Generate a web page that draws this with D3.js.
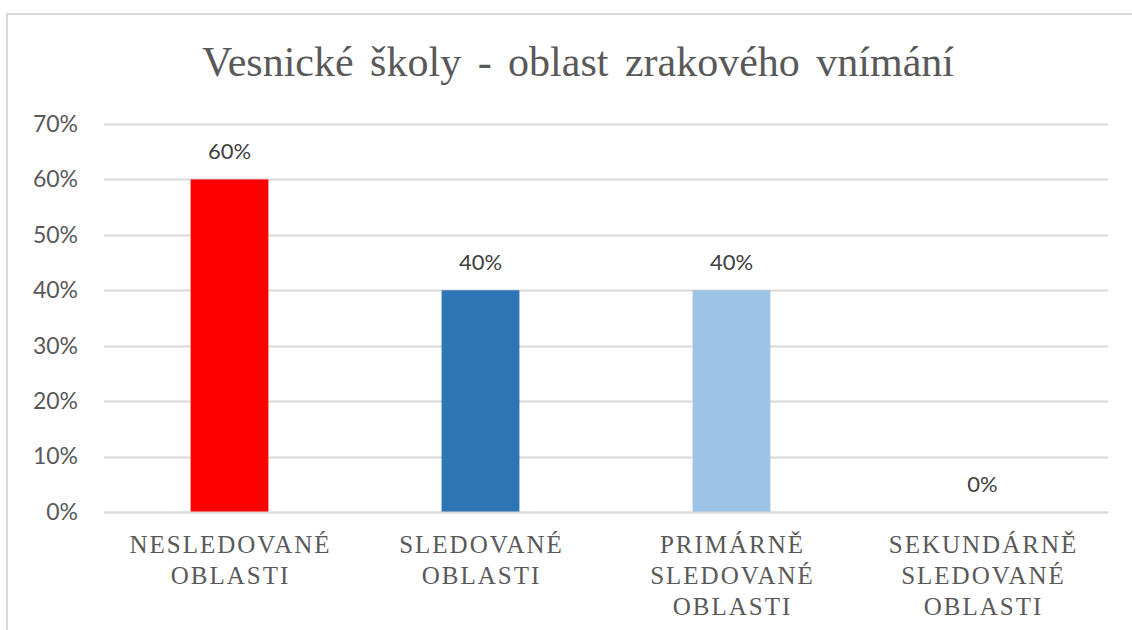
<!DOCTYPE html>
<html>
<head>
<meta charset="utf-8">
<script src="https://cdn.jsdelivr.net/npm/d3@7"></script>
<style>
  body { margin: 0; background: #fff; }
</style>
</head>
<body>
<div class="chart"></div>
<script>
// data
var categories = ["NESLEDOVANÉ OBLASTI", "SLEDOVANÉ OBLASTI", "PRIMÁRNĚ SLEDOVANÉ OBLASTI", "SEKUNDÁRNĚ SLEDOVANÉ OBLASTI"];
var categoryLines = [["NESLEDOVANÉ", "OBLASTI"], ["SLEDOVANÉ", "OBLASTI"], ["PRIMÁRNĚ", "SLEDOVANÉ", "OBLASTI"], ["SEKUNDÁRNĚ", "SLEDOVANÉ", "OBLASTI"]];
var values = [0.6, 0.4, 0.4, 0];
var barColors = ["#ff0000", "#2e75b6", "#9dc3e6", "#a5a5a5"];
var yTicks = [0, 0.1, 0.2, 0.3, 0.4, 0.5, 0.6, 0.7];
var title = "Vesnické školy - oblast zrakového vnímání";

var serif = "'Liberation Serif', 'Times New Roman', serif";
var sans = "Lato, 'Open Sans', sans-serif";

var svgWidth = 1132;
var svgHeight = 630;

var margin = { top: 124, right: 24, bottom: 118, left: 104 };
var width = svgWidth - margin.left - margin.right;
var height = svgHeight - margin.top - margin.bottom;

var svg = d3.select(".chart")
    .append("svg")
    .attr("width", svgWidth)
    .attr("height", svgHeight);

// outer frame (right and bottom edges fall outside the picture)
svg.append("rect")
    .attr("x", 7)
    .attr("y", 14)
    .attr("width", 1300)
    .attr("height", 800)
    .attr("fill", "none")
    .attr("stroke", "#d9d9d9")
    .attr("stroke-width", 2);

svg.append("text")
    .attr("x", 578)
    .attr("y", 76)
    .attr("text-anchor", "middle")
    .style("font-family", serif)
    .style("font-size", "42px")
    .style("word-spacing", "6px")
    .attr("fill", "#595959")
    .text(title);

var chartGroup = svg.append("g")
    .attr("transform", `translate(${margin.left}, ${margin.top})`);

var x = d3.scaleBand()
    .domain(categories)
    .range([0, width])
    .paddingInner(0.69)
    .paddingOuter(0.345);

var y = d3.scaleLinear()
    .domain([0, 0.7])
    .range([height, 0]);

// gridlines
chartGroup.selectAll(".grid")
    .data(yTicks)
    .enter()
    .append("line")
    .attr("x1", 0)
    .attr("x2", width)
    .attr("y1", d => Math.round(y(d)) + 0.5)
    .attr("y2", d => Math.round(y(d)) + 0.5)
    .attr("stroke", "#d9d9d9")
    .attr("stroke-width", 2);

// y axis labels
var leftAxis = d3.axisLeft(y)
    .tickValues(yTicks)
    .tickFormat(d3.format(".0%"))
    .tickSize(0)
    .tickPadding(26);

var yAxis = chartGroup.append("g").call(leftAxis);
yAxis.select(".domain").remove();
yAxis.selectAll("text")
    .style("font-family", sans)
    .style("font-size", "23px")
    .attr("fill", "#595959");

// bars
chartGroup.selectAll(".bar")
    .data(values)
    .enter()
    .append("rect")
    .attr("x", (d, i) => x(categories[i]))
    .attr("y", d => y(d))
    .attr("width", x.bandwidth())
    .attr("height", d => height - y(d))
    .attr("fill", (d, i) => barColors[i]);

// value labels
chartGroup.selectAll(".vlabel")
    .data(values)
    .enter()
    .append("text")
    .attr("x", (d, i) => x(categories[i]) + x.bandwidth() / 2)
    .attr("y", d => y(d) - 20)
    .attr("text-anchor", "middle")
    .style("font-family", sans)
    .style("font-size", "22px")
    .attr("fill", "#404040")
    .text(d => d3.format(".0%")(d));

// baseline
chartGroup.append("line")
    .attr("x1", 0)
    .attr("x2", width)
    .attr("y1", height + 0.5)
    .attr("y2", height + 0.5)
    .attr("stroke", "#d9d9d9")
    .attr("stroke-width", 2);

// category labels
var catGroups = chartGroup.selectAll(".cat")
    .data(categoryLines)
    .enter()
    .append("text")
    .attr("text-anchor", "middle")
    .style("font-family", serif)
    .style("font-size", "25px")
    .style("letter-spacing", "2px")
    .attr("fill", "#595959")
    .attr("transform", (d, i) => `translate(${x(categories[i]) + x.bandwidth() / 2 + 1}, ${height + 41})`);

catGroups.selectAll("tspan")
    .data(d => d)
    .enter()
    .append("tspan")
    .attr("x", 0)
    .attr("y", (d, i) => i * 31)
    .text(d => d);
</script>
</body>
</html>
